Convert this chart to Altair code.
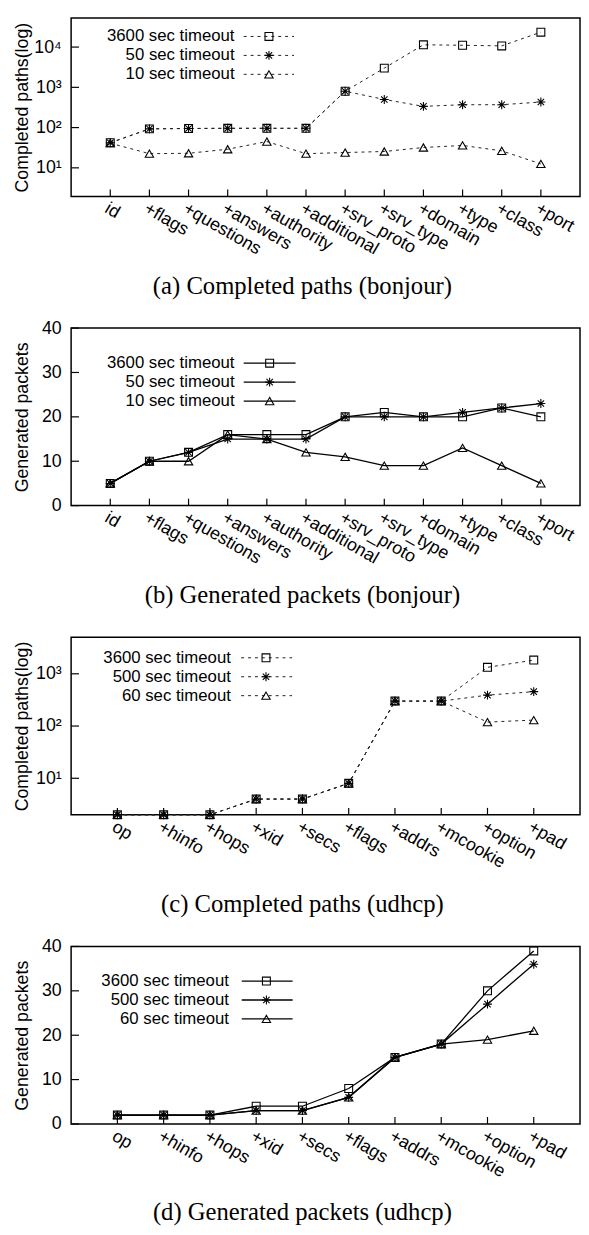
import altair as alt
import pandas as pd

# ---------------- data ----------------
bonjour_cats = ["id", "+flags", "+questions", "+answers", "+authority", "+additional",
                "+srv_proto", "+srv_type", "+domain", "+type", "+class", "+port"]
udhcp_cats = ["op", "+hinfo", "+hops", "+xid", "+secs", "+flags", "+addrs",
              "+mcookie", "+option", "+pad"]

bonjour_series = ["3600 sec timeout", "50 sec timeout", "10 sec timeout"]
udhcp_series = ["3600 sec timeout", "500 sec timeout", "60 sec timeout"]

paths_bonjour_3600 = [42, 93, 95, 96, 96, 96, 800, 3000, 11400, 11100, 10700, 23500]
paths_bonjour_50 = [42, 93, 95, 96, 96, 96, 800, 500, 337, 370, 370, 432]
paths_bonjour_10 = [41, 22.5, 23, 29, 45, 22.5, 24, 25.5, 32, 36, 26.5, 12.5]

packets_bonjour_3600 = [5, 10, 12, 16, 16, 16, 20, 21, 20, 20, 22, 20]
packets_bonjour_50 = [5, 10, 12, 15, 15, 15, 20, 20, 20, 21, 22, 23]
packets_bonjour_10 = [5, 10, 10, 16, 15, 12, 11, 9, 9, 13, 9, 5]

paths_udhcp_3600 = [2, 2, 2, 4, 4, 8, 300, 300, 1330, 1830]
paths_udhcp_500 = [2, 2, 2, 4, 4, 8, 300, 300, 390, 455]
paths_udhcp_60 = [2, 2, 2, 4, 4, 8, 300, 300, 119, 130]

packets_udhcp_3600 = [2, 2, 2, 4, 4, 8, 15, 18, 30, 39]
packets_udhcp_500 = [2, 2, 2, 3, 3, 6, 15, 18, 27, 36]
packets_udhcp_60 = [2, 2, 2, 3, 3, 6, 15, 18, 19, 21]

log_ticks_a = [10, 100, 1000, 10000]
log_ticks_c = [10, 100, 1000]
lin_ticks = [0, 10, 20, 30, 40]

captions = ["(a) Completed paths (bonjour)", "(b) Generated packets (bonjour)",
            "(c) Completed paths (udhcp)", "(d) Generated packets (udhcp)"]
ytitles = ["Completed paths(log)", "Generated packets"]

# ---------------- style ----------------
AST = "M-1,0L1,0M0,-1L0,1M-0.72,-0.72L0.72,0.72M-0.72,0.72L0.72,-0.72"
SHAPES = ["square", AST, "triangle-up"]
SIZES = [64, 81, 72]
SANS = "Liberation Sans"
SERIF = "Liberation Serif"
W = 516


def make_panel(cats, series, vals, ylog, ydomain, yticks, ytitle, dashed, caption, H, leg, cap_dy):
    rows = []
    for s, vv in zip(series, vals):
        for i, (c, v) in enumerate(zip(cats, vv)):
            rows.append({"cat": c, "i": i, "series": s, "value": v})
    df = pd.DataFrame(rows)

    x = alt.X("cat:N", sort=cats,
              scale=alt.Scale(type="point", padding=1, domain=cats),
              axis=alt.Axis(title=None, labelAngle=30, labelAlign="left",
                            labelBaseline="top", labelPadding=3, ticks=False,
                            tickSize=0, domain=False, grid=False, labelOverlap=False))
    axis_kw = dict(values=yticks, title=ytitle, titleX=-49, titleY=H / 2,
                   titleAngle=270, titleAlign="center", titleBaseline="middle",
                   labelPadding=10, ticks=False, tickSize=0, domain=False,
                   grid=False, labelOverlap=False)
    if ylog:
        yscale = alt.Scale(type="log", domain=ydomain, nice=False)
        axis_kw["labelExpr"] = "'10' + ['⁰','¹','²','³','⁴','⁵'][round(log(datum.value)/LN10)]"
    else:
        yscale = alt.Scale(type="linear", domain=ydomain, nice=False)
    y = alt.Y("value:Q", scale=yscale, axis=alt.Axis(**axis_kw))

    if dashed:
        lstyle = dict(color="#222222", strokeWidth=1.0, strokeDash=[3, 4])
    else:
        lstyle = dict(color="black", strokeWidth=1.3)

    layers = []
    layers.append(alt.Chart(df).mark_line(**lstyle).encode(
        x=x, y=y, detail="series:N", order="i:Q"))
    for k, s in enumerate(series):
        layers.append(alt.Chart(df).transform_filter(alt.datum.series == s).mark_point(
            shape=SHAPES[k], size=SIZES[k], filled=False, color="black",
            strokeWidth=1.1, opacity=1).encode(x=x, y=y))
    # inward ticks
    layers.append(alt.Chart(pd.DataFrame({"cat": cats})).mark_rule(
        color="black", strokeWidth=1.2).encode(x=x, y=alt.value(H), y2=alt.value(H - 7)))
    layers.append(alt.Chart(pd.DataFrame({"value": yticks})).mark_rule(
        color="black", strokeWidth=1.2).encode(y=y, x=alt.value(0), x2=alt.value(8)))
    # legend
    for k, s in enumerate(series):
        ly = leg["rows"][k]
        d1 = pd.DataFrame({"series": [s]})
        layers.append(alt.Chart(d1).mark_text(
            align="right", baseline="middle", font=SANS, fontSize=17, color="black"
        ).encode(text="series:N", x=alt.value(leg["tx"]), y=alt.value(ly)))
        layers.append(alt.Chart(d1).mark_rule(**lstyle).encode(
            x=alt.value(leg["l1"]), x2=alt.value(leg["l2"]), y=alt.value(ly)))
        layers.append(alt.Chart(d1).mark_point(
            shape=SHAPES[k], size=SIZES[k], filled=False, color="black",
            strokeWidth=1.1, opacity=1).encode(x=alt.value(leg["m"]), y=alt.value(ly)))
    # caption
    layers.append(alt.Chart(pd.DataFrame({"caption": [caption]})).mark_text(
        font=SERIF, fontSize=25, align="center", baseline="middle", color="black"
    ).encode(text="caption:N", x=alt.value(234.5), y=alt.value(H + cap_dy)))

    return alt.layer(*layers).properties(width=W, height=H)


pa = make_panel(bonjour_cats, bonjour_series,
                [paths_bonjour_3600, paths_bonjour_50, paths_bonjour_10],
                True, [1.95, 53000], log_ticks_a, ytitles[0], True, captions[0], 181,
                {"rows": [18.8, 38, 57.2], "tx": 165.7, "l1": 175, "l2": 226, "m": 200.6}, 91)
pb = make_panel(bonjour_cats, bonjour_series,
                [packets_bonjour_3600, packets_bonjour_50, packets_bonjour_10],
                False, [0, 40], lin_ticks, ytitles[1], False, captions[1], 180,
                {"rows": [35.6, 54.8, 74], "tx": 165.7, "l1": 175, "l2": 227.6, "m": 201.3}, 91)
pc = make_panel(udhcp_cats, udhcp_series,
                [paths_udhcp_3600, paths_udhcp_500, paths_udhcp_60],
                True, [2, 5000], log_ticks_c, ytitles[0], True, captions[2], 180,
                {"rows": [20.8, 40, 59.2], "tx": 162, "l1": 172.4, "l2": 224, "m": 197.6}, 91)
pd_ = make_panel(udhcp_cats, udhcp_series,
                 [packets_udhcp_3600, packets_udhcp_500, packets_udhcp_60],
                 False, [0, 40], lin_ticks, ytitles[1], False, captions[3], 180,
                 {"rows": [35.1, 54.3, 73.5], "tx": 160, "l1": 173, "l2": 224.6, "m": 198}, 89)

chart = alt.vconcat(pa, pb, pc, pd_, spacing=133.5, bounds="flush").properties(
    padding={"left": 5, "top": 0.5, "right": 0, "bottom": 0}
).configure_view(
    stroke="black", strokeWidth=1.5
).configure_axis(
    labelFont=SANS, labelFontSize=18, labelColor="black",
    titleFont=SANS, titleFontSize=18, titleFontWeight="normal", titleColor="black"
)

chart.save("out.html", embed_options={"renderer": "svg", "actions": False})
